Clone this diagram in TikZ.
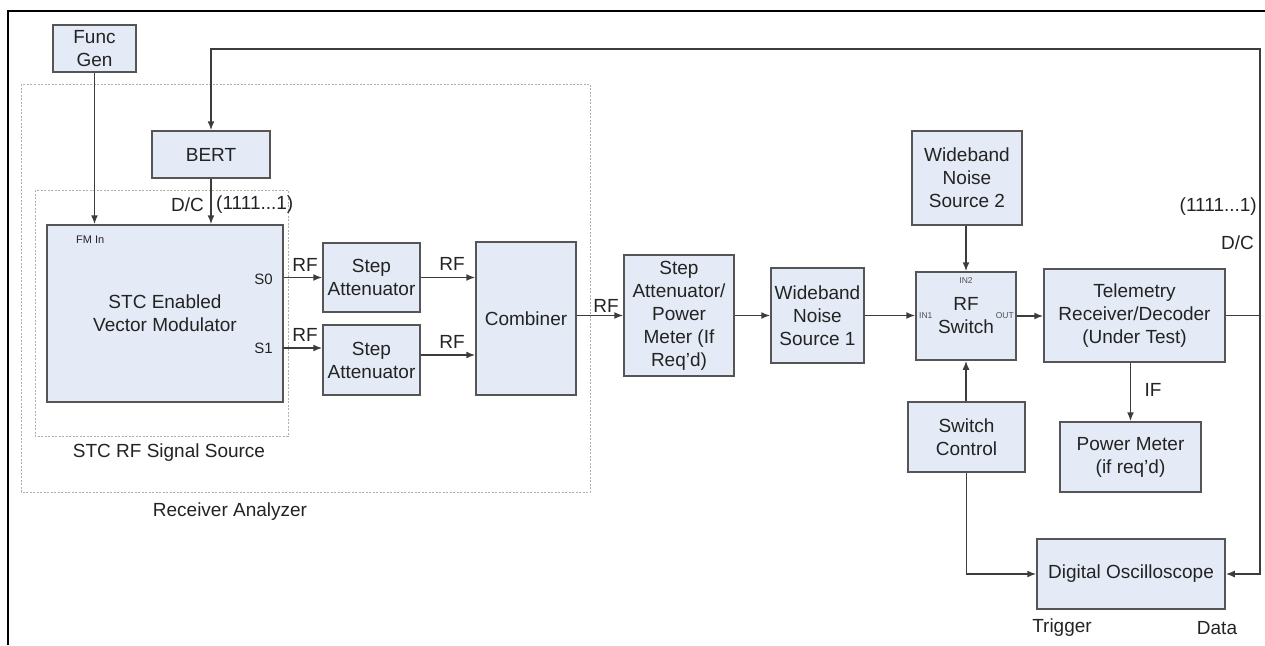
\documentclass[tikz,border=0pt]{standalone}
\usepackage{fontspec}
\setmainfont{Liberation Sans}
\usetikzlibrary{arrows.meta}
\definecolor{boxfill}{RGB}{228,235,246}
\definecolor{boxline}{RGB}{85,85,85}
\definecolor{wire}{RGB}{60,60,60}
\definecolor{txt}{RGB}{35,35,35}
\definecolor{dashc}{RGB}{175,175,175}
\tikzset{
  blk/.style={draw=boxline, fill=boxfill, line width=1.5pt, inner sep=0pt, align=center,
    text=txt, font=\fontsize{19}{23}\selectfont},
  arr/.style={draw=wire, line width=1.6pt, -{Latex[length=9pt,width=7pt]}},
  lbl/.style={text=txt, inner sep=0pt, font=\fontsize{19}{23}\selectfont},
  slbl/.style={text=txt, inner sep=0pt, font=\fontsize{15}{18}\selectfont},
  tiny/.style={text=txt!80, inner sep=0pt, font=\fontsize{8.5}{10}\selectfont},
  fmlbl/.style={text=txt, inner sep=0pt, font=\fontsize{11}{13}\selectfont},
  grp/.style={draw=dashc, line width=0.9pt, dash pattern=on 2pt off 1.5pt}
}
\begin{document}
\begin{tikzpicture}[x=1pt,y=-1pt]
\useasboundingbox (0,0) rectangle (1265,645);
% outer frame
\draw[black, line width=1.6pt] (8,645) -- (8,11) -- (1265,11);
% group boxes
\draw[grp] (21,84) rectangle (590,492);
\draw[grp] (35,190) rectangle (288,436);
\node[lbl] (lstc) at (169,453) {STC RF Signal Source};
\node[lbl] (lra) at (230,512) {Receiver Analyzer};
% blocks
\node[blk, minimum width=83pt, minimum height=47pt] (fg) at (94.5,48.5) {Func\\Gen};
\node[blk, minimum width=118pt, minimum height=47pt] (bert) at (211,154.5) {BERT};
\node[blk, minimum width=236pt, minimum height=177pt] (vm) at (165,313.5) {STC Enabled\\Vector Modulator};
\node[blk, minimum width=97pt, minimum height=69pt] (sa1) at (371.5,277.5) {Step\\Attenuator};
\node[blk, minimum width=97pt, minimum height=70pt] (sa2) at (371.5,360) {Step\\Attenuator};
\node[blk, minimum width=100pt, minimum height=153pt] (comb) at (526,318.5) {Combiner};
\node[blk, minimum width=110pt, minimum height=121pt] (sapm) at (679,315.5) {Step\\Attenuator/\\Power\\Meter (If\\Req’d)};
\node[blk, minimum width=93pt, minimum height=95pt] (wns1) at (817.5,315.5) {Wideband\\Noise\\Source 1};
\node[blk, minimum width=100pt, minimum height=88pt] (rfs) at (966,316) {RF\\Switch};
\node[blk, minimum width=110pt, minimum height=94pt] (wns2) at (967,178) {Wideband\\Noise\\Source 2};
\node[blk, minimum width=181pt, minimum height=93pt] (tel) at (1134.5,315.5) {Telemetry\\Receiver/Decoder\\(Under Test)};
\node[blk, minimum width=141pt, minimum height=70pt] (pm) at (1130.5,457) {Power Meter\\(if req’d)};
\node[blk, minimum width=117pt, minimum height=70pt] (sc) at (966.5,437) {Switch\\Control};
\node[blk, minimum width=188pt, minimum height=70pt] (dso) at (1131,574) {Digital Oscilloscope};
% small port labels
\node[fmlbl, anchor=west] (lfm) at (76,240) {FM In};
\node[slbl, anchor=east] (ls0) at (273,279) {S0};
\node[slbl, anchor=east] (ls1) at (273,348) {S1};
\node[tiny] (lin2) at (966,281) {IN2};
\node[tiny, anchor=west] (lin1) at (919,316) {IN1};
\node[tiny, anchor=east] (lout) at (1014,316) {OUT};
% coordinates
\coordinate (s1) at (283,348);
\coordinate (tr) at (1260,49);
% connectors
\draw[arr] (fg.south) -- (fg.south |- vm.north);
\draw[arr] (bert.south) -- (bert.south |- vm.north);
\draw[arr] (vm.east |- sa1.west) -- (sa1.west);
\draw[arr] (s1) -- (s1 -| sa2.west);
\draw[arr] (sa1.east) -- (sa1.east -| comb.west);
\draw[arr] ([yshift=5pt]sa2.east) -- ([yshift=5pt]sa2.east -| comb.west);
\draw[arr] (comb.east |- sapm.west) -- (sapm.west);
\draw[arr] (sapm.east) -- (wns1.west);
\draw[arr] (wns1.east) -- (wns1.east -| rfs.west);
\draw[arr] (rfs.north |- wns2.south) -- (rfs.north);
\draw[arr] (rfs.east) -- (rfs.east -| tel.west);
\draw[arr] (tel.east) -| (tr) -| (bert.north);
\draw[arr] (tel.east -| tr) |- (dso.east);
\draw[arr] (pm.north |- tel.south) -- (pm.north);
\draw[arr] (rfs.south |- sc.north) -- (rfs.south);
\draw[arr] (sc.south) |- (dso.west);
% connector labels
\node[lbl, anchor=east] (ldc1) at (204,205) {D/C};
\node[lbl, anchor=west] (lseq1) at (216,205) {(1111...1)};
\node[lbl] (lrf1) at (305,265) {RF};
\node[lbl] (lrf2) at (305,335) {RF};
\node[lbl] (lrf3) at (452,264) {RF};
\node[lbl] (lrf4) at (452,342) {RF};
\node[lbl] (lrf5) at (606,306) {RF};
\node[lbl, anchor=east] (lseq2) at (1257,207) {(1111...1)};
\node[lbl, anchor=east] (ldc2) at (1254,243) {D/C};
\node[lbl] (lif) at (1153,390) {IF};
\node[lbl] (ltrig) at (1062,628) {Trigger};
\node[lbl] (ldata) at (1217,628) {Data};
\end{tikzpicture}
\end{document}
